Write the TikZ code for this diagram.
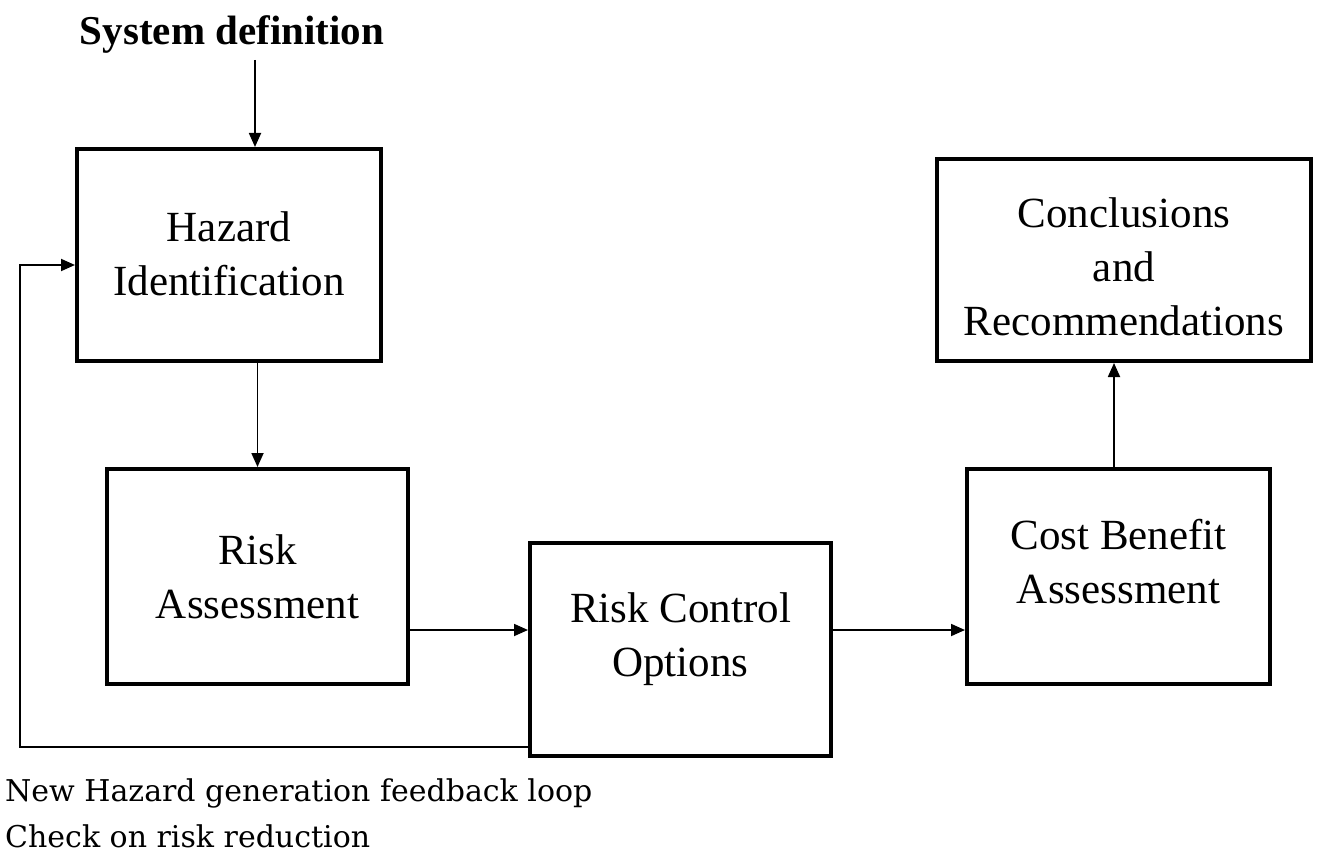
\documentclass[tikz,border=0pt]{standalone}
\usepackage{fontspec}
\setmainfont{Liberation Serif}
\newfontfamily\notefont{DejaVu Serif}
\usetikzlibrary{arrows.meta}
\newcommand\boxtext[2]{\raisebox{#1}[0pt][0pt]{\begin{tabular}{@{}c@{}}#2\end{tabular}}}
\begin{document}
\begin{tikzpicture}[x=1pt,y=-1pt,
 box/.style={draw,line width=4pt,rectangle,font=\fontsize{43}{54}\selectfont,inner sep=0pt},
 conn/.style={line width=1.8pt,-{Triangle[length=14pt,width=12pt]}},
 note/.style={anchor=base west,inner sep=0pt,font=\notefont\fontsize{30}{34}\selectfont}]
\useasboundingbox (0,0) rectangle (1317,856);
\node[font=\bfseries\fontsize{41}{46}\selectfont,inner sep=0pt,anchor=base] (sys) at (232,45) {System definition};
\node[box,minimum width=304pt,minimum height=212pt] (haz) at (229,255) {\boxtext{-8.5pt}{Hazard\\Identification}};
\node[box,minimum width=301pt,minimum height=215pt] (ra) at (257.5,576.5) {\boxtext{-10pt}{Risk\\Assessment}};
\node[box,minimum width=301pt,minimum height=213pt] (rco) at (680.5,649.5) {\boxtext{5pt}{Risk Control\\Options}};
\node[box,minimum width=303pt,minimum height=215pt] (cba) at (1118.5,576.5) {\boxtext{4.5pt}{Cost Benefit\\Assessment}};
\node[box,minimum width=374pt,minimum height=202pt] (con) at (1124,260) {\boxtext{-16.5pt}{Conclusions\\and\\Recommendations}};
\coordinate (sd) at (255,60);
\coordinate (fb) at (20,747);
\draw[conn] (sd) -- (sd |- haz.north);
\draw[conn] (haz.south -| ra.north) -- (ra.north);
\draw[conn] (ra.east |- 0,630) -- (rco.west |- 0,630);
\draw[conn] (rco.east |- 0,630) -- (cba.west |- 0,630);
\draw[conn] (cba.north -| 1114,0) -- (con.south -| 1114,0);
\draw[conn] (rco.west |- fb) -- (fb) -- (fb |- 0,265) -- (haz.west |- 0,265);
\node[note] (n1) at (5,801) {New Hazard generation feedback loop};
\node[note] (n2) at (5,847) {Check on risk reduction};
\end{tikzpicture}
\end{document}
